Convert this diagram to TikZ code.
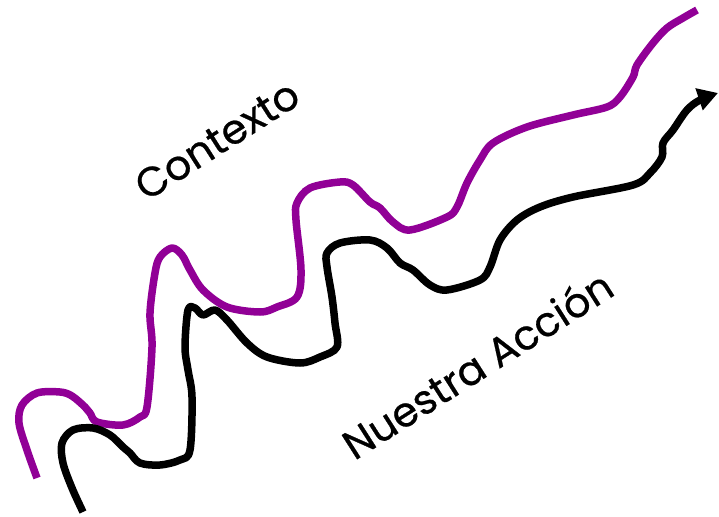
\documentclass[tikz,border=0pt]{standalone}
\usepackage{fontspec}
\setmainfont{Poppins}
\newfontfamily\lblfont[FakeBold=0.6]{Poppins}
\usetikzlibrary{arrows.meta}
\definecolor{ctxpurple}{RGB}{145,0,150}
\tikzset{
  wave/.style={line width=7.5pt, line join=round, smooth, tension=0.55},
  lbl/.style={font=\lblfont\fontsize{41}{44}\selectfont, rotate=32.5, inner sep=0pt}
}
\begin{document}
\begin{tikzpicture}[x=1pt,y=-1pt]
\path[use as bounding box] (0,0) rectangle (719,516);
\draw[wave, ctxpurple] plot coordinates {(37,478) (27,450) (19,423) (22,405) (37,393) (60,392) (72,396) (85,407) (90,413) (97,422) (123,425) (140,417) (147,407) (152,347) (150,313) (155,273) (160,257) (172,248) (182,255) (190,270) (203,290) (227,307) (260,312) (277,307) (297,297) (301,270) (296,220) (297,203) (310,188) (340,182) (353,185) (370,202) (380,208) (393,222) (410,230) (447,217) (457,207) (467,183) (480,160) (493,143) (527,127) (573,115) (607,107) (620,97) (633,77) (637,65) (653,43) (667,28) (683,18) (697,10)};
\draw[wave, black, -{Triangle[length=20pt,width=22pt]}] plot coordinates {(83,512) (72,488) (63,463) (62,443) (73,430) (93,428) (110,435) (123,447) (130,453) (140,463) (160,465) (180,460) (190,450) (192,397) (188,370) (185,347) (188,310) (195,308) (203,315) (215,310) (227,320) (247,343) (267,357) (300,363) (320,357) (337,347) (335,323) (332,297) (327,267) (327,253) (340,243) (370,240) (387,248) (400,263) (413,270) (430,285) (447,290) (480,280) (490,267) (500,240) (517,220) (540,207) (573,197) (633,185) (650,173) (662,157) (663,143) (673,130) (687,110) (700,100) (718,93)};
\node[lbl] (ctx) at (217,140) {Contexto};
\node[lbl] (acc) at (477,364) {Nuestra Acción};
\end{tikzpicture}
\end{document}
